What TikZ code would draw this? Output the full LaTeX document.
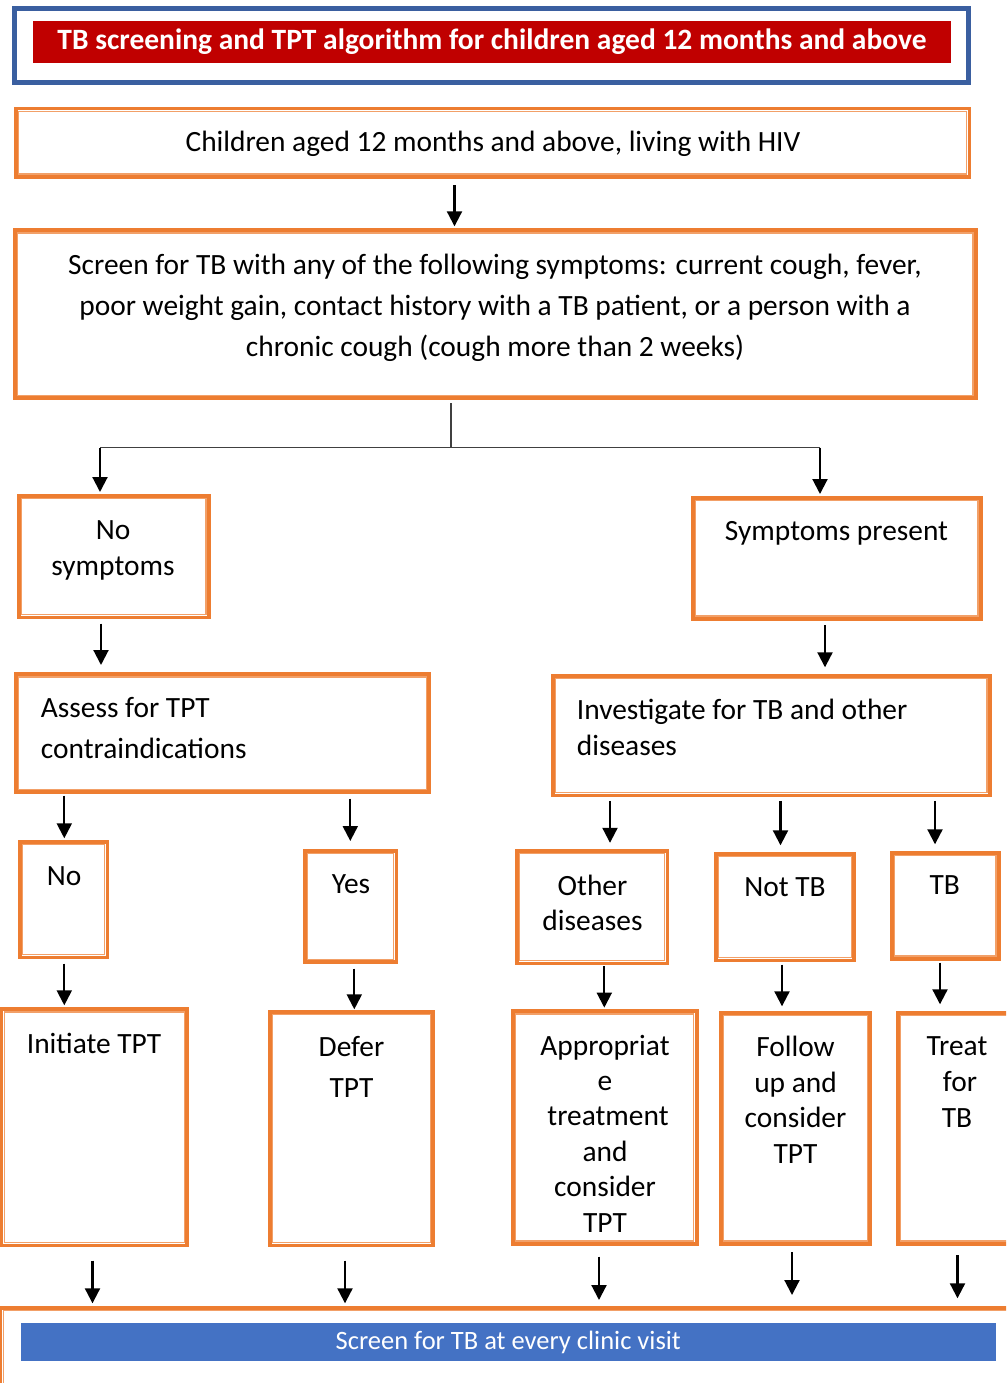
\documentclass[tikz,border=0pt]{standalone}
\usepackage{fontspec}
\setmainfont{Carlito}
\usetikzlibrary{arrows.meta}
\definecolor{orng}{HTML}{ED7D31}
\definecolor{lorng}{HTML}{F2A068}
\definecolor{frameblue}{HTML}{3A5FA0}
\definecolor{titlered}{HTML}{C00000}
\definecolor{barblue}{HTML}{4472C4}
\definecolor{connGray}{HTML}{404040}
\tikzset{
  obox/.style={draw=orng, line width=3.8pt, inner sep=0pt, rectangle},
  ithin/.style={draw=lorng, line width=1.3pt},
  txt/.style={font=\fontsize{29.4}{#1}\selectfont, align=center, inner sep=0pt, text=black},
  txt/.default=36,
  ltxt/.style={font=\fontsize{29.4}{#1}\selectfont, align=left, inner sep=0pt, text=black, anchor=west},
  ltxt/.default=36,
  arr/.style={line width=2.1pt, draw=black, -{Triangle[width=15pt,length=15pt]}},
  conn/.style={line width=1.2pt, draw=connGray},
}
\newcommand\obox[5]{%
  \node[obox, minimum width={#4-#2-3.8}, minimum height={#5-#3-3.8}] (#1) at ({(#2+#4)/2},{(#3+#5)/2}) {};
  \draw[ithin] ([shift={(4.7,4.7)}]#1.north west) rectangle ([shift={(-4.7,-4.7)}]#1.south east);}
\newcommand\varr[5]{%
  \draw[arr, shorten <=#4pt, shorten >=#5pt] (#3,0 |- #1.south) -- (#3,0 |- #2.north);}
\begin{document}
\begin{tikzpicture}[x=1pt,y=-1pt]
\useasboundingbox (0,0) rectangle (1006,1383);
\clip (0,0) rectangle (1006,1383);
\fill[white] (0,0) rectangle (1006,1383);

% title
\node[draw=frameblue, line width=5pt, inner sep=0pt, minimum width={971-12-5}, minimum height={85.3-6-5}] (frame) at (491.5,45.65) {};
\node[fill=titlered, inner sep=0pt, minimum width=918, minimum height=42, text=white,
      font=\bfseries\fontsize{29.5}{34}\selectfont] (title) at (492,41.7) {TB screening and TPT algorithm for children aged 12 months and above};

% boxes
\obox{child}{14}{106.7}{971.3}{178.7}
\node[txt] (childT) at (493,144) {Children aged 12 months and above, living with HIV};

\obox{screen}{12.7}{228.3}{977.7}{400}
\node[txt=41] (screenT) at (495,307.5) {Screen for TB with any of the following symptoms: current cough, fever,\\
poor weight gain, contact history with a TB patient, or a person with a\\
chronic cough (cough more than 2 weeks)};

\obox{nosym}{16.7}{494}{210.7}{619.3}
\node[txt] (nosymT) at (113,550.5) {No\\symptoms};

\obox{sympres}{691}{496}{982.7}{620.7}
\node[txt] (sympresT) at (836.5,533.5) {Symptoms present};

\obox{assess}{14}{672.3}{431}{794}
\node[ltxt=41] (assessT) at (40.7,728) {Assess for TPT\\contraindications};

\obox{invest}{550.7}{674}{991.7}{797.3}
\node[ltxt=36.5] (investT) at (576.7,727.5) {Investigate for TB and other\\diseases};

\obox{no}{18}{840}{109.3}{959.3}
\node[txt] (noT) at (64,876) {No};

\obox{yes}{302.7}{848.7}{398.3}{964}
\node[txt] (yesT) at (351,884) {Yes};

\obox{other}{515}{849}{669.3}{965.3}
\node[txt=35] (otherT) at (592.5,902.5) {Other\\diseases};

\obox{nottb}{714}{852}{856}{962.3}
\node[txt] (nottbT) at (785,887) {Not TB};

\obox{tb}{890}{850.7}{1000.7}{960.7}
\node[txt] (tbT) at (944.7,885) {TB};

\obox{initiate}{-0.5}{1007.3}{189}{1247.3}
\node[txt] (initiateT) at (94,1043.5) {Initiate TPT};

\obox{defer}{268}{1010}{435}{1247.3}
\node[txt=41] (deferT) at (351.5,1066.5) {Defer\\TPT};

\obox{approp}{511}{1009.3}{698.5}{1245.7}
\node[txt=35.4] (appropT) at (605,1133.5) {Appropriat\\e\\\hspace*{6pt}treatment\\and\\consider\\TPT};

\obox{follow}{719}{1010.7}{872}{1245.7}
\node[txt=35.5] (followT) at (795.5,1100) {Follow\\up and\\consider\\TPT};

\obox{treat}{896}{1011}{1018}{1245.7}
\node[txt=35.7] (treatT) at (957,1082) {Treat\\\hspace*{6pt}for\\TB};

\obox{final}{-1.5}{1306}{1014}{1400}
\node[fill=barblue, inner sep=0pt, minimum width=974.5, minimum height=38, text=white,
      font=\fontsize{26.5}{32}\selectfont] (finalT) at (508.25,1342) {Screen for TB at every clinic visit};

% connectors
\varr{child}{screen}{454.5}{6.7}{2}
\coordinate (bm) at (451,447.5);
\coordinate (bl) at (100,447.5);
\coordinate (brr) at (820,447.5);
\draw[conn, shorten <=3pt] (451,0 |- screen.south) -- (bm);
\draw[conn] (bl) -- (brr);
\draw[arr, shorten >=2pt] (bl) -- (nosym.north -| bl);
\draw[arr, shorten >=2pt] (brr) -- (sympres.north -| brr);

\varr{nosym}{assess}{101}{4.4}{7.3}
\varr{sympres}{invest}{825}{4.5}{6.7}
\varr{assess}{no}{64.3}{1.7}{1.7}
\varr{assess}{yes}{350.3}{4.7}{7.7}
\varr{invest}{other}{610}{3.5}{6.2}
\varr{invest}{nottb}{780.5}{3.5}{6.7}
\varr{invest}{tb}{935}{3.5}{6.4}
\varr{no}{initiate}{64.3}{4.4}{2}
\varr{yes}{defer}{354.3}{4.7}{0.7}
\varr{other}{approp}{604.3}{0.7}{1.7}
\varr{nottb}{follow}{782}{2.4}{4.4}
\varr{tb}{treat}{940}{2}{6.7}
\varr{initiate}{final}{92.5}{13.2}{2.7}
\varr{defer}{final}{345}{13.2}{2.7}
\varr{approp}{final}{599}{11}{6}
\varr{follow}{final}{792}{6.4}{11}
\varr{treat}{final}{957.5}{9.4}{7.7}
\end{tikzpicture}
\end{document}
